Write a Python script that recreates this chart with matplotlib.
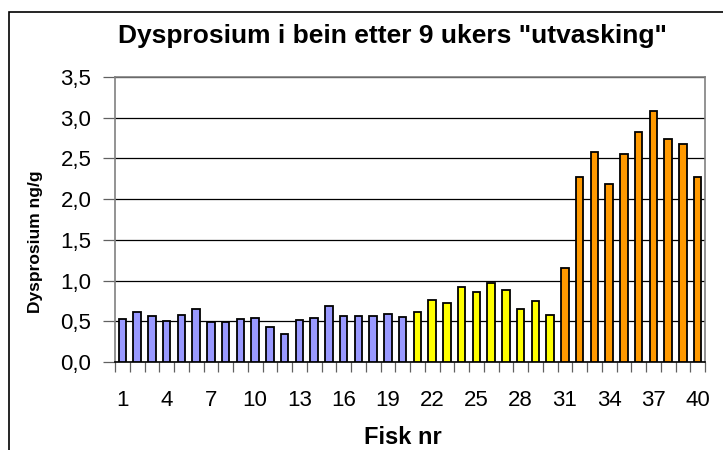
import matplotlib
matplotlib.use('Agg')
import matplotlib.pyplot as plt
from matplotlib.patches import Rectangle

# fish number and Dy content in bone (ng/g)
fisk = list(range(1, 41))
verdier = [0.53, 0.61, 0.56, 0.50, 0.58, 0.65, 0.49, 0.49, 0.53, 0.54,
           0.43, 0.35, 0.52, 0.54, 0.69, 0.57, 0.57, 0.57, 0.59, 0.55,
           0.62, 0.76, 0.72, 0.92, 0.86, 0.97, 0.89, 0.65, 0.75, 0.58,
           1.16, 2.27, 2.58, 2.19, 2.55, 2.82, 3.08, 2.74, 2.68, 2.27]
grupper = ['blaa'] * 20 + ['gul'] * 10 + ['oransje'] * 10
farger = {'blaa': '#9999FF', 'gul': '#FFFF00', 'oransje': '#FF9900'}
y_ticks = [0.0, 0.5, 1.0, 1.5, 2.0, 2.5, 3.0, 3.5]
x_labels = list(range(1, 41, 3))

plt.rcParams['font.family'] = ['Liberation Sans', 'DejaVu Sans']

fig = plt.figure(figsize=(7.23, 4.5), dpi=100)
ax = fig.add_axes([115 / 723, 1 - 362 / 450, 590 / 723, 285 / 450])

# frame around the chart (only left and top edge show in the picture)
fig.patches.append(Rectangle((9 / 723, -0.1), 1.0, 1 - 12 / 450 + 0.1,
                             transform=fig.transFigure, fill=False,
                             edgecolor='black', linewidth=1.2))

ax.bar(fisk, verdier, width=0.5, color=[farger[g] for g in grupper],
       edgecolor='black', linewidth=1.3, zorder=3)

ax.set_xlim(0.5, 40.5)
ax.set_ylim(0, 3.5)
ax.set_yticks(y_ticks)
ax.set_yticklabels([f'{t:.1f}'.replace('.', ',') for t in y_ticks], fontsize=16)
ax.yaxis.grid(True, color='black', linewidth=0.9, zorder=0)
ax.tick_params(axis='y', length=9, width=0.9, color='#606060', pad=8)

ax.set_xticks(x_labels)
ax.set_xticklabels([str(x) for x in x_labels], fontsize=16)
ax.tick_params(axis='x', which='major', length=0, pad=20)
ax.set_xticks([i + 0.5 for i in range(0, 41)], minor=True)
ax.tick_params(axis='x', which='minor', length=7, width=0.9, color='#606060')

for s in ['top', 'right', 'left']:
    ax.spines[s].set_color('#808080')
    ax.spines[s].set_linewidth(1.2)
ax.spines['bottom'].set_color('black')
ax.spines['bottom'].set_linewidth(1.2)

fig.text(392 / 723, 1 - 36 / 450, 'Dysprosium i bein etter 9 ukers "utvasking"',
         ha='center', va='center', fontsize=19, fontweight='bold')
fig.text(36 / 723, 1 - 242 / 450, 'Dysprosium ng/g', rotation=90,
         ha='center', va='center', fontsize=12.5, fontweight='bold')
fig.text(403 / 723, 1 - 437 / 450, 'Fisk nr', ha='center', va='center',
         fontsize=17, fontweight='bold')

fig.savefig('out.png', dpi=100)
